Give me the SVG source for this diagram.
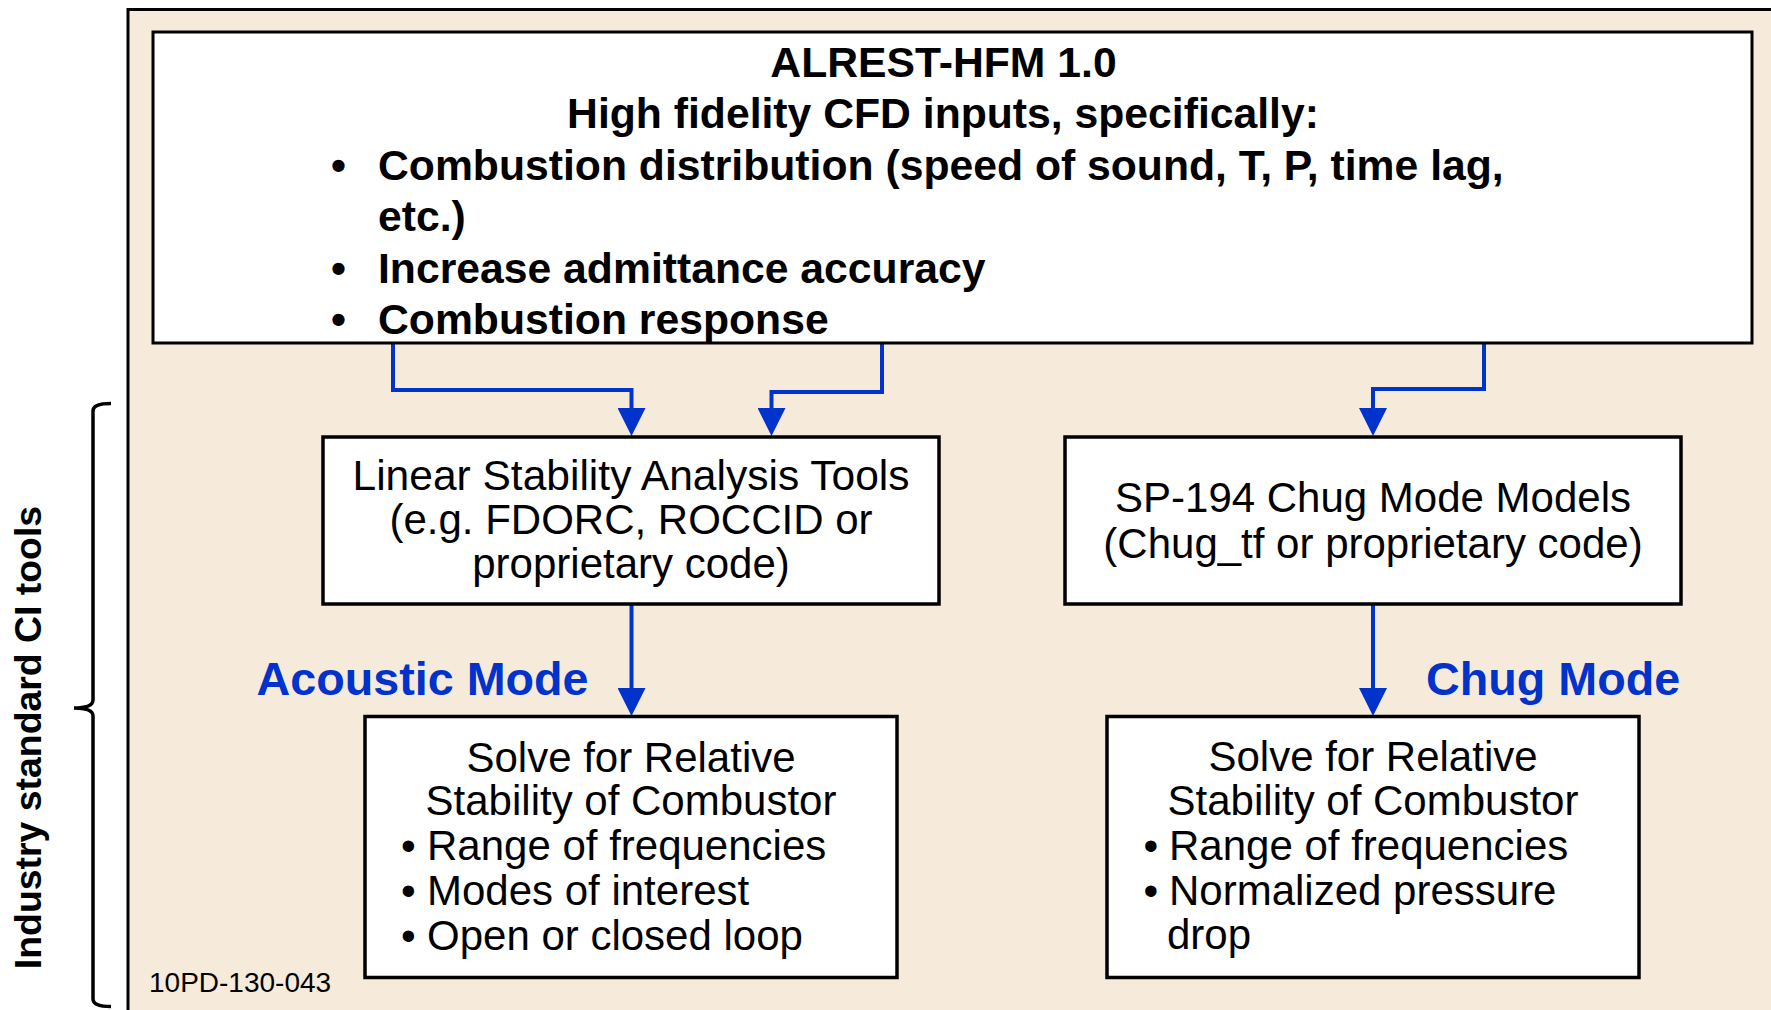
<svg xmlns="http://www.w3.org/2000/svg" width="1771" height="1010" viewBox="0 0 1771 1010">
<defs>
<style>
.box{fill:#ffffff;stroke:#000000;stroke-width:3.5}
.top{fill:#ffffff;stroke:#000000;stroke-width:3}
.bt{font-family:"Liberation Sans",Arial,sans-serif;font-weight:bold;font-size:42.7px;fill:#000000}
.rt{font-family:"Liberation Sans",Arial,sans-serif;font-size:42px;fill:#000000}
.mode{font-family:"Liberation Sans",Arial,sans-serif;font-weight:bold;font-size:46.7px;fill:#0033cc}
.side{font-family:"Liberation Sans",Arial,sans-serif;font-weight:bold;font-size:37.4px;fill:#000000}
.code{font-family:"Liberation Sans",Arial,sans-serif;font-size:28px;fill:#000000}
.conn{fill:none;stroke:#0033cc;stroke-width:4;marker-end:url(#ah)}
</style>
<marker id="ah" markerUnits="userSpaceOnUse" markerWidth="28" markerHeight="28" refX="14" refY="14" orient="auto" viewBox="0 0 28 28">
<path d="M0,0 L28,14 L0,28 Z" fill="#0033cc"/>
</marker>
</defs>
<rect x="0" y="0" width="1771" height="1010" fill="#ffffff"/>
<rect id="frame" x="128" y="9.5" width="1700" height="1100" fill="#f6ebda" stroke="#000000" stroke-width="3"/>

<g id="brace">
<path d="M111,403.5 Q93,403.5 93,411 L93,700 Q93,708 74,708 Q93,708 93,716 L93,999 Q93,1006.5 111,1006.5" fill="none" stroke="#000000" stroke-width="3.5"/>
<text class="side" transform="translate(41,737.5) rotate(-90)" text-anchor="middle">Industry standard CI tools</text>
</g>

<g id="connectors">
<path class="conn" d="M393,343 V390 H631.5 V422"/>
<path class="conn" d="M882,343 V392 H771.5 V422"/>
<path class="conn" d="M1484,343 V389 H1373 V422"/>
<path class="conn" d="M631.5,604 V702"/>
<path class="conn" d="M1373,604 V702"/>
</g>

<g id="node-alrest">
<rect class="top" x="153" y="32" width="1599" height="311"/>
<text class="bt" x="943.5" y="77" text-anchor="middle">ALREST-HFM 1.0</text>
<text class="bt" x="943" y="128.3" text-anchor="middle">High fidelity CFD inputs, specifically:</text>
<text class="bt" y="180"><tspan x="331">•</tspan><tspan x="378">Combustion distribution (speed of sound, T, P, time lag,</tspan></text>
<text class="bt" x="378" y="231">etc.)</text>
<text class="bt" y="283"><tspan x="331">•</tspan><tspan x="378">Increase admittance accuracy</tspan></text>
<text class="bt" y="334"><tspan x="331">•</tspan><tspan x="378">Combustion response</tspan></text>
</g>

<g id="node-linear">
<rect class="box" x="323" y="437" width="616" height="167"/>
<text class="rt" x="631" y="490" text-anchor="middle" textLength="557" lengthAdjust="spacingAndGlyphs">Linear Stability Analysis Tools</text>
<text class="rt" x="631" y="533.5" text-anchor="middle">(e.g. FDORC, ROCCID or</text>
<text class="rt" x="631" y="578" text-anchor="middle">proprietary code)</text>
</g>

<g id="node-sp194">
<rect class="box" x="1065" y="437" width="616" height="167"/>
<text class="rt" x="1373" y="511.7" text-anchor="middle">SP-194 Chug Mode Models</text>
<text class="rt" x="1373" y="557.7" text-anchor="middle">(Chug_tf or proprietary code)</text>
</g>

<g id="node-acoustic-solve">
<rect class="box" x="365" y="716.5" width="532" height="261"/>
<text class="rt" x="631" y="771.5" text-anchor="middle">Solve for Relative</text>
<text class="rt" x="631" y="815" text-anchor="middle">Stability of Combustor</text>
<text class="rt" y="860"><tspan x="401">•</tspan><tspan x="427">Range of frequencies</tspan></text>
<text class="rt" y="905"><tspan x="401">•</tspan><tspan x="427">Modes of interest</tspan></text>
<text class="rt" y="950"><tspan x="401">•</tspan><tspan x="427">Open or closed loop</tspan></text>
</g>

<g id="node-chug-solve">
<rect class="box" x="1107" y="716.5" width="532" height="261"/>
<text class="rt" x="1373" y="771" text-anchor="middle">Solve for Relative</text>
<text class="rt" x="1373" y="814.5" text-anchor="middle">Stability of Combustor</text>
<text class="rt" y="859.5"><tspan x="1143.5">•</tspan><tspan x="1169">Range of frequencies</tspan></text>
<text class="rt" y="905"><tspan x="1143.5">•</tspan><tspan x="1169">Normalized pressure</tspan></text>
<text class="rt" x="1167" y="948.5">drop</text>
</g>

<g id="labels">
<text class="mode" x="256.5" y="695">Acoustic Mode</text>
<text class="mode" x="1426" y="695">Chug Mode</text>
<text class="code" x="149" y="991.7">10PD-130-043</text>
</g>
</svg>
